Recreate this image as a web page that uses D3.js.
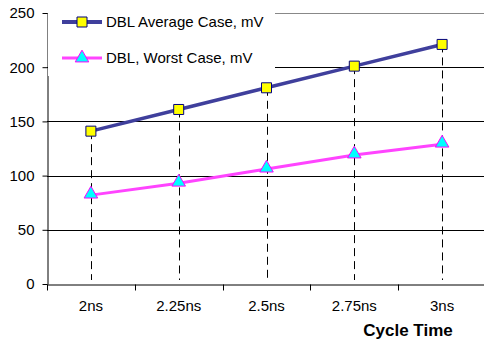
<!DOCTYPE html>
<html lang="en">
<head>
    <meta charset="UTF-8">
    <title>DBL vs Cycle Time</title>
    <script src="https://d3js.org/d3.v7.min.js"></script>
    <style>
        body { margin: 0; background: #fff; font-family: Arial, "Liberation Sans", sans-serif; }
        svg { display: block; }
        .grid line { stroke-width: 1; }
        .drop { stroke: #000; stroke-width: 1; stroke-dasharray: 8,5; }
    </style>
</head>
<body>
    <div id="chart"></div>
    <script>
        const width = 484, height = 343;
        const plotLeft = 47, plotTop = 13, plotBottom = 284, plotRight = 486;

        // data
        const categories = ["2ns", "2.25ns", "2.5ns", "2.75ns", "3ns"];
        const avgCase = [141, 161, 181, 201, 221];
        const worstCase = [82, 93, 106, 119, 129];
        const yTicks = [0, 50, 100, 150, 200, 250];
        const seriesNames = ["DBL Average Case, mV", "DBL, Worst Case, mV"];

        const svg = d3.select("#chart").append("svg")
            .attr("width", width).attr("height", height);

        const x = d3.scaleBand().domain(categories).range([plotLeft, plotRight]).padding(0);
        const y = d3.scaleLinear().domain([0, 250]).range([plotBottom, plotTop]);
        const cx = d => x(d) + x.bandwidth() / 2;

        // horizontal gridlines
        svg.append("g").attr("class", "grid")
            .selectAll("line").data(yTicks.filter(t => t > 0)).enter()
            .append("line")
            .attr("x1", plotLeft).attr("x2", plotRight)
            .attr("y1", d => Math.round(y(d)) + 0.5).attr("y2", d => Math.round(y(d)) + 0.5)
            .attr("stroke", d => d === 250 ? "#888" : "#000")
            .attr("stroke-width", d => d === 250 ? 2 : 1);

        // drop lines from highest point to the axis
        svg.selectAll(".drop").data(categories).enter()
            .append("line").attr("class", "drop")
            .attr("x1", d => Math.round(cx(d)) + 0.5).attr("x2", d => Math.round(cx(d)) + 0.5)
            .attr("y1", (d, i) => y(avgCase[i]))
            .attr("y2", plotBottom - 4);

        // axes
        const yAxis = d3.axisLeft(y).tickValues(yTicks).tickSize(5).tickSizeOuter(0);
        const gy = svg.append("g").attr("transform", `translate(${plotLeft + 0.5},0)`).call(yAxis);
        gy.selectAll("text").attr("font-size", 15).attr("font-family", "Arial, 'Liberation Sans', sans-serif")
            .attr("fill", "#000").attr("x", -13);
        gy.selectAll("line, path").attr("stroke", "#000");

        const xAxis = d3.axisBottom(x).tickSize(0).tickSizeOuter(0);
        const gx = svg.append("g").attr("transform", `translate(0,${plotBottom + 0.5})`).call(xAxis);
        gx.selectAll("text").attr("font-size", 15).attr("font-family", "Arial, 'Liberation Sans', sans-serif")
            .attr("fill", "#000").attr("y", 16);
        gx.select("path").attr("stroke", "#000");
        // tick marks on category boundaries
        gx.selectAll(".bnd").data(categories).enter()
            .append("line")
            .attr("x1", d => Math.round(x(d)) + 0.5).attr("x2", d => Math.round(x(d)) + 0.5)
            .attr("y1", 0).attr("y2", 6).attr("stroke", "#000");

        // series lines
        const line = d3.line().x(d => cx(d.c)).y(d => y(d.v));
        const avgPts = categories.map((c, i) => ({ c, v: avgCase[i] }));
        const worstPts = categories.map((c, i) => ({ c, v: worstCase[i] }));

        svg.append("path").datum(avgPts).attr("d", line)
            .attr("fill", "none").attr("stroke", "#3f3f9c").attr("stroke-width", 3.5);
        svg.append("path").datum(worstPts).attr("d", line)
            .attr("fill", "none").attr("stroke", "#ff44ff").attr("stroke-width", 3);

        const square = d3.symbol().type(d3.symbolSquare).size(100);
        const tri = d3.symbol().type(d3.symbolTriangle).size(80);

        svg.selectAll(".sq").data(avgPts).enter().append("path")
            .attr("transform", d => `translate(${cx(d.c)},${y(d.v)})`)
            .attr("d", square).attr("fill", "#ffff00").attr("stroke", "#000080").attr("stroke-width", 1);
        svg.selectAll(".tri").data(worstPts).enter().append("path")
            .attr("transform", d => `translate(${cx(d.c)},${y(d.v) - 1})`)
            .attr("d", tri).attr("fill", "#00ffff").attr("stroke", "#ff00ff").attr("stroke-width", 1);

        // legend (white box covering the top-left of the grid)
        const lg = svg.append("g");
        lg.append("rect").attr("x", plotLeft + 1).attr("y", 4).attr("width", 227).attr("height", 72).attr("fill", "#fff");
        const legendItems = [
            { name: seriesNames[0], y: 22, color: "#3f3f9c", w: 4, sym: square, fill: "#ffff00", stroke: "#000080" },
            { name: seriesNames[1], y: 58, color: "#ff44ff", w: 3, sym: tri, fill: "#00ffff", stroke: "#ff00ff" }
        ];
        legendItems.forEach(it => {
            lg.append("line").attr("x1", 62).attr("x2", 102).attr("y1", it.y).attr("y2", it.y)
                .attr("stroke", it.color).attr("stroke-width", it.w);
            lg.append("path").attr("transform", `translate(82,${it.y})`).attr("d", it.sym)
                .attr("fill", it.fill).attr("stroke", it.stroke);
            lg.append("text").attr("x", 106).attr("y", it.y + 5)
                .attr("font-size", 15).text(it.name);
        });

        // axis title
        svg.append("text").attr("x", 408).attr("y", 336)
            .attr("text-anchor", "middle").attr("font-size", 17).attr("font-weight", "bold")
            .text("Cycle Time");
    </script>
</body>
</html>
